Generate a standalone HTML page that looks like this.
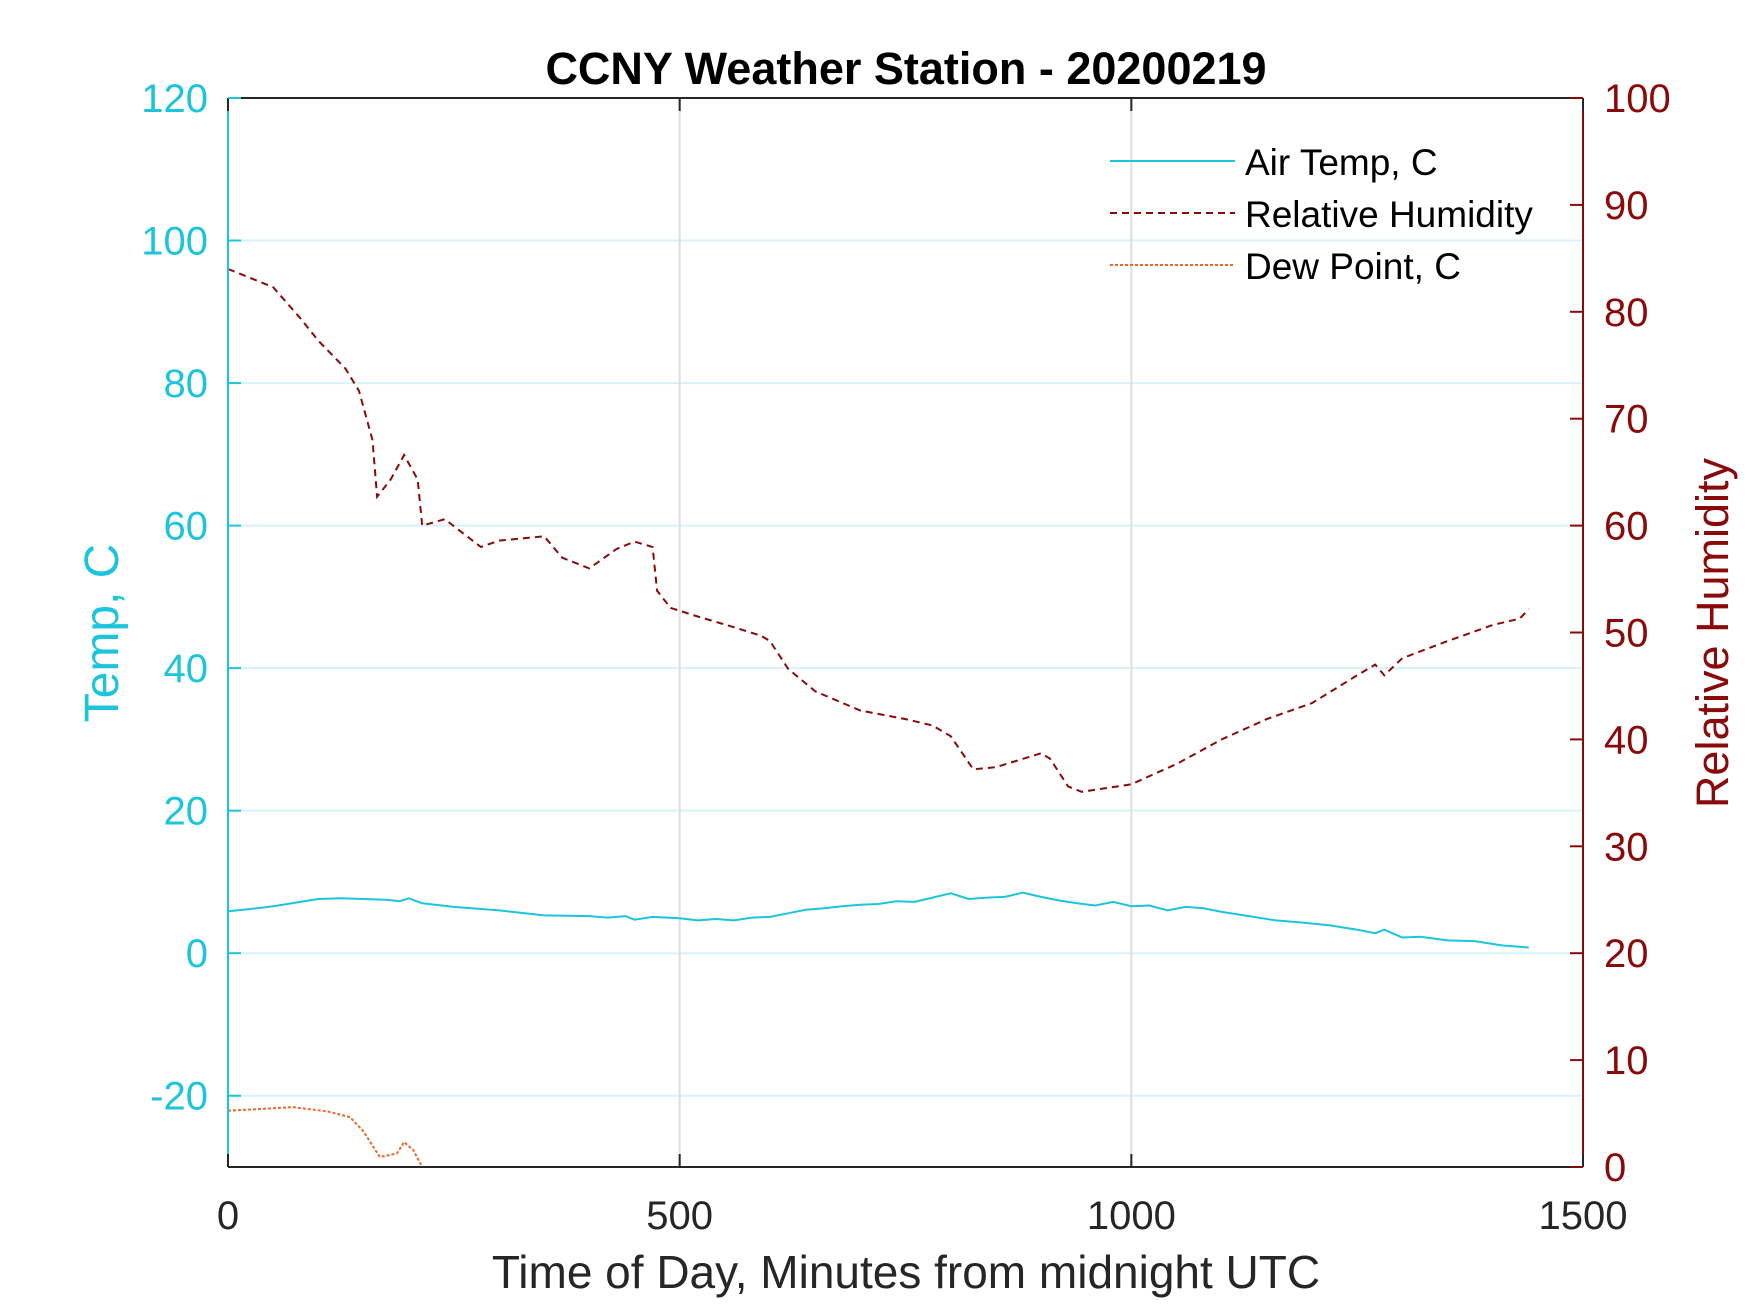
<!DOCTYPE html>
<html><head><meta charset="utf-8"><style>
body{margin:0;background:#fff;}
svg{display:block;font-family:"Liberation Sans",sans-serif;}
</style></head><body>
<svg id="chart" width="1750" height="1313" viewBox="0 0 1750 1313">
<g id="grid"></g>
<g id="series"></g>
<g id="axes"></g>
<text x="906" y="84" text-anchor="middle" font-size="45" font-weight="bold" fill="#000">CCNY Weather Station - 20200219</text>
<text x="906" y="1288" text-anchor="middle" font-size="46" fill="#262626">Time of Day, Minutes from midnight UTC</text>
<text transform="translate(118,633) rotate(-90)" text-anchor="middle" font-size="48" fill="#1cc4dc">Temp, C</text>
<text transform="translate(1728,633) rotate(-90)" text-anchor="middle" font-size="45" fill="#8a0a0a">Relative Humidity</text>
<g>
<line x1="1110" y1="161" x2="1235" y2="161" stroke="#1cc4dc" stroke-width="2"/>
<text x="1245" y="175" font-size="37">Air Temp, C</text>
<line x1="1110" y1="213" x2="1235" y2="213" stroke="#8a0a0a" stroke-width="2" stroke-dasharray="7,5"/>
<text x="1245" y="227" font-size="37">Relative Humidity</text>
<line x1="1110" y1="265" x2="1235" y2="265" stroke="#e8692a" stroke-width="2" stroke-dasharray="3,2"/>
<text x="1245" y="279" font-size="37">Dew Point, C</text>
</g>
</svg>
<script>
const xTicks=[0,500,1000,1500];
const tempTicks=[-20,0,20,40,60,80,100,120];
const rhTicks=[0,10,20,30,40,50,60,70,80,90,100];
const tempMin=[0,25,50,75,100,125,150,175,190,200,215,250,300,350,400,420,440,450,470,500,520,540,560,580,600,620,640,660,680,700,720,740,760,780,800,820,840,860,880,900,920,940,960,980,1000,1020,1040,1060,1080,1100,1130,1160,1190,1220,1250,1270,1280,1300,1320,1350,1380,1410,1440];
const tempVal=[5.9,6.2,6.6,7.1,7.6,7.7,7.6,7.5,7.3,7.7,7.0,6.5,6.0,5.3,5.2,5.0,5.2,4.7,5.1,4.9,4.6,4.8,4.6,5.0,5.1,5.6,6.1,6.3,6.6,6.8,6.9,7.3,7.2,7.8,8.4,7.6,7.8,7.9,8.5,7.9,7.4,7.0,6.7,7.2,6.6,6.7,6.0,6.5,6.3,5.8,5.2,4.6,4.3,3.9,3.3,2.8,3.3,2.2,2.3,1.8,1.7,1.1,0.8];
const rhMin=[0,50,80,100,130,145,160,165,180,195,210,215,240,280,300,350,370,400,430,450,470,475,490,520,560,590,600,620,650,700,750,780,800,825,850,900,910,930,945,1000,1050,1100,1150,1200,1250,1270,1280,1300,1350,1400,1430,1440];
const rhVal=[84,82.3,79.4,77.3,74.7,72.6,68,62.7,64.3,66.6,64.3,60,60.6,58,58.6,59,57,56,57.8,58.5,58,53.9,52.3,51.5,50.5,49.7,49.2,46.6,44.5,42.7,41.9,41.3,40.3,37.2,37.4,38.7,38.2,35.6,35.1,35.8,37.7,40,41.9,43.4,46,47,46,47.6,49.2,50.7,51.3,52.2];
const dewMin=[0,30,72,110,135,150,168,187,195,205,215];
const dewVal=[-22.1,-21.9,-21.6,-22.2,-23,-25,-28.6,-28.1,-26.5,-27.6,-30];
const L=228,R=1583,T=98,B=1167;
const sx=v=>L+(v-0)/1500*(R-L);
const sy=v=>B-(v+30)/150*(B-T);
const sr=v=>B-v/100*(B-T);
const NS='http://www.w3.org/2000/svg';
function mk(tag,attrs,parent){const e=document.createElementNS(NS,tag);for(const k in attrs)e.setAttribute(k,attrs[k]);parent.appendChild(e);return e;}
const grid=document.getElementById('grid'),axes=document.getElementById('axes'),series=document.getElementById('series');
tempTicks.forEach(t=>{if(t===120)return;const l=mk('line',{x1:L,x2:R,y1:sy(t),y2:sy(t),stroke:'#d6f3f8','stroke-width':2},grid);

});
[500,1000].forEach(t=>{const l=mk('line',{x1:sx(t),x2:sx(t),y1:T,y2:B,stroke:'#dcdee2','stroke-width':2},grid);

});
function path(xs,ys,fy,attrs,name){const d=xs.map((x,i)=>(i?'L':'M')+sx(x).toFixed(1)+','+fy(ys[i]).toFixed(1)).join('');const p=mk('path',Object.assign({d:d,fill:'none'},attrs),series);

}
path(tempMin,tempVal,sy,{stroke:'#1cc4dc','stroke-width':2},'air-temp-line');
path(rhMin,rhVal,sr,{stroke:'#8a0a0a','stroke-width':2,'stroke-dasharray':'7,5'},'relative-humidity-line');
path(dewMin,dewVal,sy,{stroke:'#e8692a','stroke-width':2,'stroke-dasharray':'3,2'},'dew-point-line');
mk('line',{x1:L,x2:R,y1:T,y2:T,stroke:'#262626','stroke-width':2},axes);
mk('line',{x1:L,x2:R,y1:B,y2:B,stroke:'#262626','stroke-width':2},axes);
mk('line',{x1:L,x2:L,y1:T,y2:B,stroke:'#1cc4dc','stroke-width':2},axes);
mk('line',{x1:R,x2:R,y1:T,y2:B,stroke:'#8a0a0a','stroke-width':2},axes);
xTicks.forEach(t=>{const x=sx(t);mk('line',{x1:x,x2:x,y1:B,y2:B-13,stroke:'#262626','stroke-width':2},axes);mk('line',{x1:x,x2:x,y1:T,y2:T+13,stroke:'#262626','stroke-width':2},axes);
const tx=mk('text',{x:x,y:1229,'text-anchor':'middle','font-size':40,fill:'#262626'},axes);tx.textContent=t;

});
tempTicks.forEach(t=>{const y=sy(t);mk('line',{x1:L,x2:L+13,y1:y,y2:y,stroke:'#1cc4dc','stroke-width':2},axes);
const tx=mk('text',{x:208,y:y+14,'text-anchor':'end','font-size':40,fill:'#1cc4dc'},axes);tx.textContent=t;

});
rhTicks.forEach(t=>{const y=sr(t);mk('line',{x1:R,x2:R-13,y1:y,y2:y,stroke:'#8a0a0a','stroke-width':2},axes);
const tx=mk('text',{x:1604,y:y+14,'text-anchor':'start','font-size':40,fill:'#8a0a0a'},axes);tx.textContent=t;

});
</script>
</body></html>
